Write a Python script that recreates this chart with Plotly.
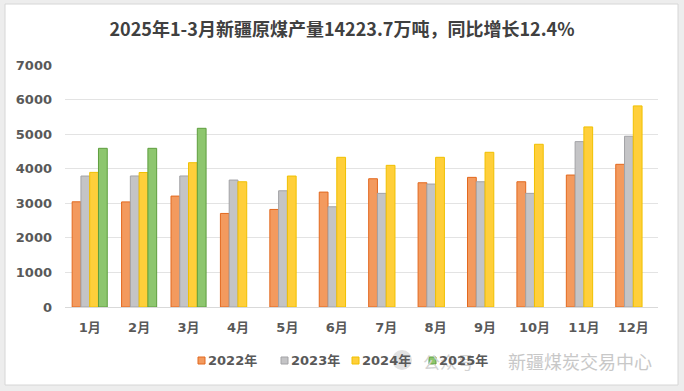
import plotly.graph_objects as go

months = ["1月", "2月", "3月", "4月", "5月", "6月", "7月", "8月", "9月", "10月", "11月", "12月"]
y2022 = [3043, 3040, 3208, 2706, 2822, 3324, 3710, 3594, 3750, 3623, 3817, 4127]
y2023 = [3788, 3790, 3790, 3672, 3362, 2899, 3287, 3556, 3623, 3287, 4783, 4939]
y2024 = [3894, 3890, 4174, 3623, 3788, 4330, 4098, 4330, 4475, 4707, 5209, 5817]
y2025 = [4590, 4590, 5169, None, None, None, None, None, None, None, None, None]
series_names = ["2022年", "2023年", "2024年", "2025年"]
y_ticks = [0, 1000, 2000, 3000, 4000, 5000, 6000, 7000]

fills = ["#F39A5E", "#C4C4C6", "#FFCF3A", "#8DC66E"]
lines = ["#E2691F", "#A3A3A6", "#F0C000", "#5E9E3E"]

LAT = "DejaVu Sans"
CJK = "Noto Sans CJK SC"
MIX = "DejaVu Sans, Noto Sans CJK SC"

L, R, T, B = 65, 26, 65, 84
W, H = 684, 391
pw, ph = W - L - R, H - T - B

def px_x(p):
    return (p - L) / pw

def px_y(p):
    return (H - B - p) / ph

fig = go.Figure()
for name, vals, fc, lc in zip(series_names, [y2022, y2023, y2024, y2025], fills, lines):
    fig.add_trace(go.Bar(
        x=months, y=vals, name=name, showlegend=False,
        marker=dict(color=fc, line=dict(color=lc, width=1)),
    ))

# hand-placed legend (compact Excel-style swatches)
legend_x = [198, 281, 352, 429]
legend_y = 360.5
shapes = [
    dict(type="rect", xref="paper", yref="paper", layer="below",
         x0=px_x(5), x1=px_x(678), y0=px_y(385), y1=px_y(4),
         fillcolor="white", line=dict(color="#d6d6d6", width=1)),
    dict(type="circle", xref="paper", yref="paper", layer="below",
         x0=px_x(392), x1=px_x(412), y0=px_y(370), y1=px_y(350),
         fillcolor="#e2e2e2", line=dict(width=0)),
]
annotations = [
    dict(text="公众号", xref="paper", yref="paper", x=px_x(448), y=px_y(361),
         xanchor="center", yanchor="middle", showarrow=False,
         font=dict(family=CJK, size=17, color="#d2d2d2")),
    dict(text="新疆煤炭交易中心", xref="paper", yref="paper", x=px_x(580), y=px_y(361),
         xanchor="center", yanchor="middle", showarrow=False,
         font=dict(family=CJK, size=18, color="#c8c8c8")),
]
for name, fc, lc, lx in zip(series_names, fills, lines, legend_x):
    shapes.append(dict(type="rect", xref="paper", yref="paper",
                       x0=px_x(lx), x1=px_x(lx + 7), y0=px_y(legend_y + 3.5), y1=px_y(legend_y - 3.5),
                       fillcolor=fc, line=dict(color=lc, width=1)))
    annotations.append(dict(text="<b>%s</b>" % name, xref="paper", yref="paper",
                            x=px_x(lx + 8), y=px_y(legend_y), xanchor="left", yanchor="middle",
                            showarrow=False, font=dict(family=MIX, size=13, color="#595959")))

fig.update_layout(
    width=W, height=H,
    margin=dict(l=L, r=R, t=T, b=B),
    paper_bgcolor="#ededed",
    plot_bgcolor="white",
    barmode="group",
    bargap=0.29,
    bargroupgap=0.0,
    showlegend=False,
    font=dict(family=MIX, color="#595959", size=13),
    title=dict(
        text="<b>2025年1-3月新疆原煤产量14223.7万吨，同比增长12.4%</b>",
        x=0.5, xref="container", xanchor="center",
        y=1 - 30 / H, yref="container", yanchor="middle",
        font=dict(family=CJK, size=18, color="#404040"),
    ),
    xaxis=dict(
        showgrid=False, showline=True, linecolor="#d9d9d9", linewidth=1,
        ticks="", tickfont=dict(family=MIX, size=13, color="#595959", weight="bold"),
        ticklabelstandoff=8,
    ),
    yaxis=dict(
        range=[0, 7000], tickvals=y_ticks, ticktext=[str(v) for v in y_ticks],
        showgrid=True, gridcolor="#e3e3e3", gridwidth=1,
        zeroline=False, showline=False, ticks="",
        tickfont=dict(family=LAT, size=13, color="#595959", weight="bold"),
        ticklabelstandoff=12,
    ),
    shapes=shapes,
    annotations=annotations,
)

fig.write_html("out.html", config={"displayModeBar": False},
               post_script="document.body.style.margin='0';document.body.style.overflow='hidden';")
